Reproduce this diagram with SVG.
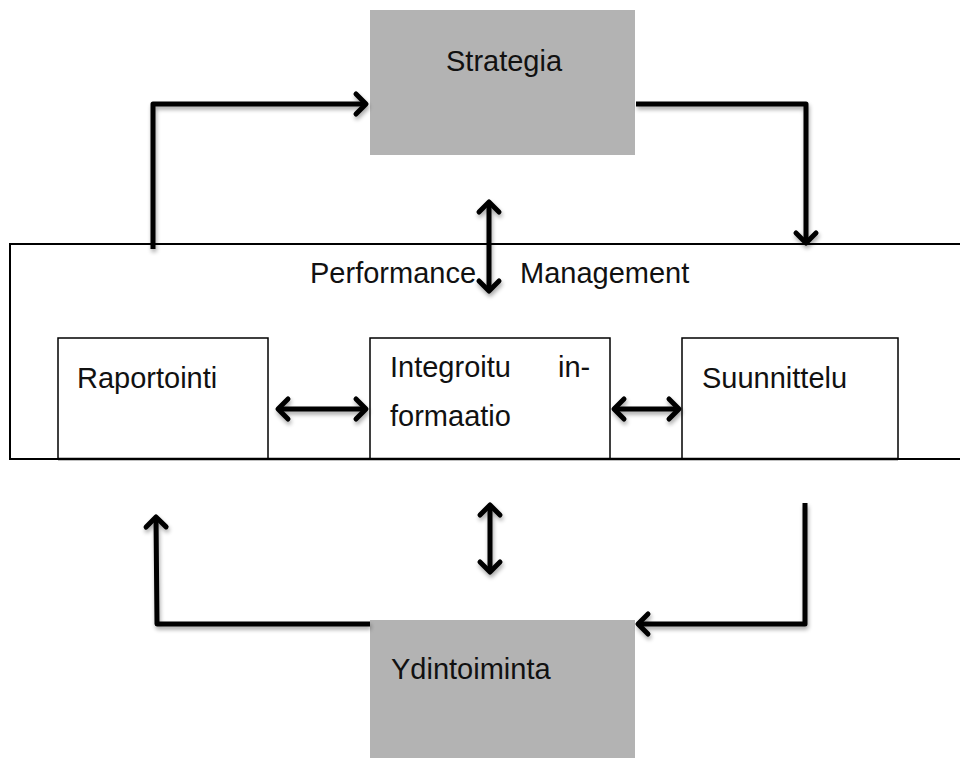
<svg xmlns="http://www.w3.org/2000/svg" width="960" height="758" viewBox="0 0 960 758">
<defs>
<filter id="sh" x="-20%" y="-20%" width="140%" height="140%">
<feGaussianBlur in="SourceAlpha" stdDeviation="2"/>
<feOffset dx="1" dy="3" result="b"/>
<feComponentTransfer><feFuncA type="linear" slope="0.35"/></feComponentTransfer>
<feMerge><feMergeNode/><feMergeNode in="SourceGraphic"/></feMerge>
</filter>
<marker id="ah" viewBox="-14 -14 28 28" markerWidth="28" markerHeight="28" refX="0" refY="0" orient="auto-start-reverse" markerUnits="userSpaceOnUse">
<path d="M-10,-10 L0,0 L-10,10" fill="none" stroke="#000" stroke-width="5" stroke-linecap="round" stroke-linejoin="round"/>
</marker>
</defs>
<style>
text{font-family:"Liberation Sans",Arial,sans-serif;font-size:29px;fill:#111}
.gray{fill:#b3b3b3}
.box{fill:#fff;stroke:#000;stroke-width:1.5}
.con{fill:none;stroke:#000;stroke-width:5;stroke-linejoin:round}
</style>
<rect width="960" height="758" fill="#fff"/>
<g id="frame">
<rect x="10" y="244" width="960" height="215" fill="#fff" stroke="#000" stroke-width="2"/>
<text><tspan x="310" y="283">Performance</tspan><tspan x="520" y="283">Management</tspan></text>
</g>
<g id="strategia">
<rect class="gray" x="370" y="10" width="265" height="145"/>
<text x="446" y="71">Strategia</text>
</g>
<g id="ydintoiminta">
<rect class="gray" x="370" y="620" width="265" height="140"/>
<text x="391" y="679">Ydintoiminta</text>
</g>
<g id="raportointi">
<rect class="box" x="58" y="338" width="210" height="121"/>
<text x="77" y="388">Raportointi</text>
</g>
<g id="integroitu">
<rect class="box" x="370" y="338" width="240" height="121"/>
<text><tspan x="390" y="377">Integroitu</tspan><tspan x="558" y="377">in-</tspan><tspan x="390" y="426">formaatio</tspan></text>
</g>
<g id="suunnittelu">
<rect class="box" x="682" y="338" width="216" height="121"/>
<text x="702" y="388">Suunnittelu</text>
</g>
<line x1="58" y1="459" x2="898" y2="459" stroke="#000" stroke-width="2.5"/>
<g id="connectors" filter="url(#sh)">
<path class="con" d="M153,249 L153,104 L366,104" marker-end="url(#ah)"/>
<path class="con" d="M636,104 L806,104 L806,243" marker-end="url(#ah)"/>
<path class="con" d="M489,202 L489,291" marker-start="url(#ah)" marker-end="url(#ah)"/>
<path class="con" d="M278,409 L366,409" marker-start="url(#ah)" marker-end="url(#ah)"/>
<path class="con" d="M614,409 L679,409" marker-start="url(#ah)" marker-end="url(#ah)"/>
<path class="con" d="M370,624 L157,624 L156,517" marker-end="url(#ah)"/>
<path class="con" d="M490,505 L490,572" marker-start="url(#ah)" marker-end="url(#ah)"/>
<path class="con" d="M805,503 L805,624 L638,624" marker-end="url(#ah)"/>
</g>
</svg>
